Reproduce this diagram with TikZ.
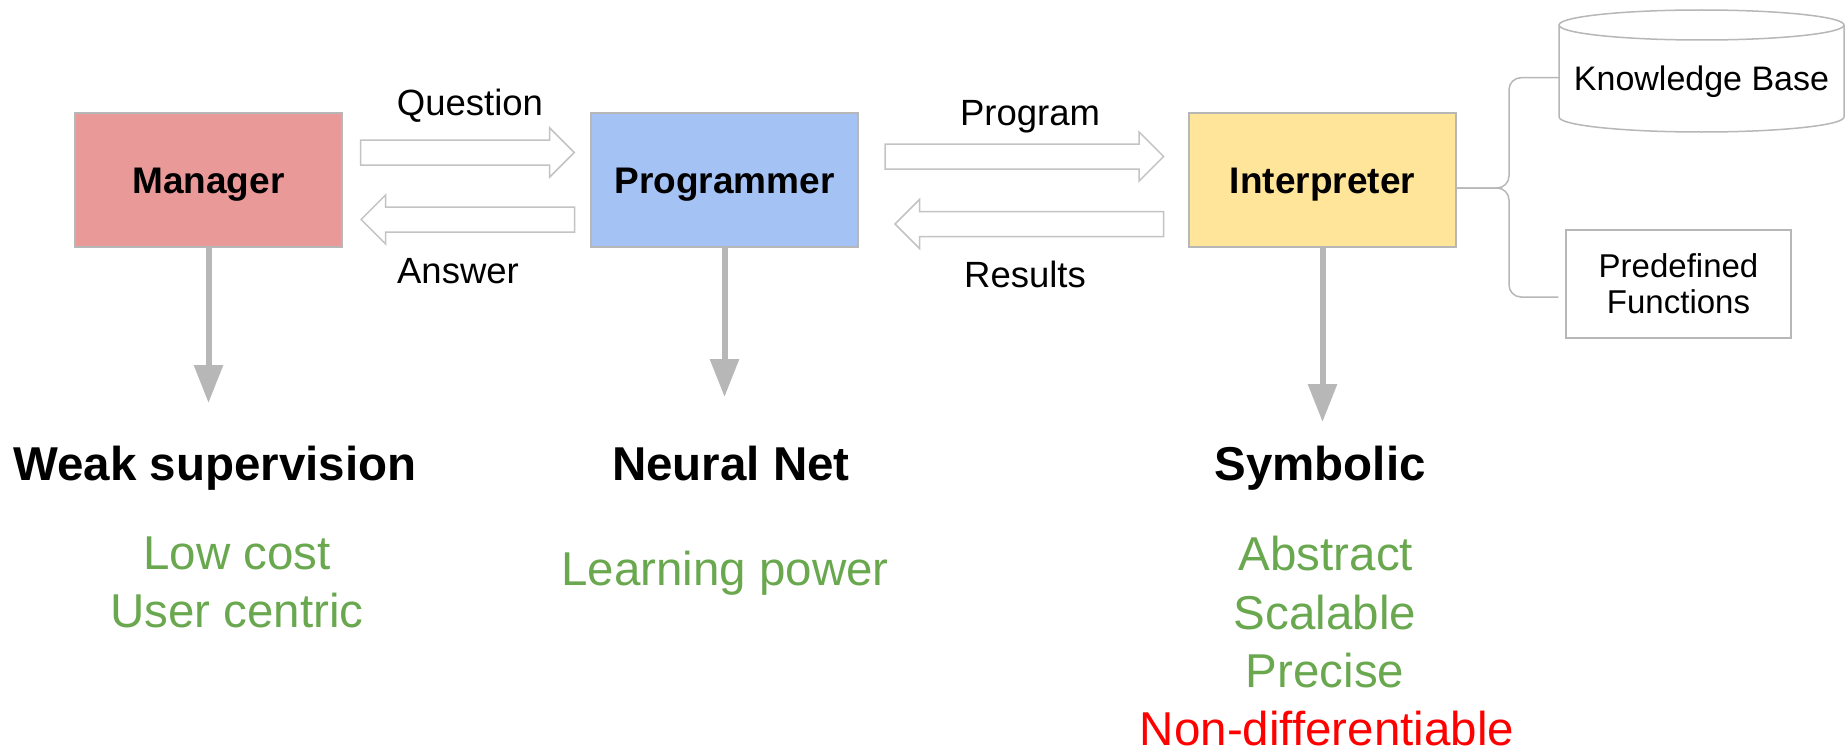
\documentclass[tikz,border=0pt]{standalone}
\usepackage{fontspec}
\setmainfont{Liberation Sans}
\usetikzlibrary{arrows.meta,calc,shapes.arrows}

\definecolor{mgrpink}{HTML}{EA9999}
\definecolor{prgblue}{HTML}{A4C2F4}
\definecolor{intyellow}{HTML}{FFE599}
\definecolor{linegray}{HTML}{B7B7B7}
\definecolor{arrowgray}{HTML}{C3C3C3}
\definecolor{notegreen}{HTML}{6AA84F}

\begin{document}
\begin{tikzpicture}[x=1pt, y=-1pt,
    box/.style={draw=linegray, line width=2pt, minimum width=267pt, minimum height=134pt,
        inner sep=0pt, text height=26.5pt, text depth=0pt, font=\fontsize{37}{44}\selectfont\bfseries},
    harrow/.style={single arrow, draw=arrowgray, line width=1.5pt, fill=white,
        inner xsep=0pt, inner ysep=11.75pt, single arrow head extend=12pt},
    lbl/.style={font=\fontsize{36.5}{44}\selectfont, inner sep=0pt, anchor=base},
    downarr/.style={draw=linegray, line width=6pt, -{Triangle[length=38pt, width=28pt]}},
    head/.style={font=\fontsize{47.5}{57}\selectfont\bfseries, inner sep=0pt, anchor=base},
    note/.style={font=\fontsize{47.5}{57}\selectfont, text=notegreen, inner sep=0pt, anchor=base},
    thinline/.style={draw=linegray, line width=1.5pt},
    brace/.style={draw=linegray, line width=1.5pt, rounded corners=12pt}]
    \useasboundingbox (0,0) rectangle (1846,752);
    % Boxes
    \node[box, fill=mgrpink] (mgr) at (208.5,180) {Manager};
    \node[box, fill=prgblue] (prg) at (724.5,180) {Programmer};
    \node[box, fill=intyellow] (intp) at (1322.5,180) {Interpreter};
    % Hollow arrows between the boxes
    \node[harrow, minimum height=213.5pt] (qarrow) at ($(mgr.east)!.5!(prg.west)+(-5.3,-27.5)$) {};
    \node[harrow, minimum height=213.5pt, shape border rotate=180] (aarrow) at ($(mgr.east)!.5!(prg.west)+(7.6,39.5)$) {};
    \node[harrow, minimum height=278.5pt] (parrow) at ($(prg.east)!.5!(intp.west)+(-5.4,-23.5)$) {};
    \node[harrow, minimum height=268.5pt, shape border rotate=180] (rarrow) at ($(prg.east)!.5!(intp.west)+(12,44)$) {};
    \node[lbl] (qlabel) at (470,115) {Question};
    \node[lbl] (alabel) at (458,283) {Answer};
    \node[lbl] (plabel) at (1030,125) {Program};
    \node[lbl] (rlabel) at (1025,287) {Results};
    % Knowledge base cylinder
    \draw[thinline, fill=white] (1559,25) -- (1559,117) arc[start angle=180, end angle=0, x radius=142.5, y radius=15] -- (1844,25);
    \draw[thinline] (1701.5,25) ellipse[x radius=142.5, y radius=15];
    \node[font=\fontsize{34}{40}\selectfont, inner sep=0pt, anchor=base, text depth=0pt, minimum width=285pt] (kb) at (1701.5,90) {Knowledge Base};
    \node[thinline, minimum width=225pt, minimum height=108pt, align=center, font=\fontsize{33}{36}\selectfont] (pf) at (1678.5,284) {Predefined\\Functions};
    % Brace from the interpreter
    \coordinate (tip) at ([yshift=-8pt]intp.east);
    \coordinate (bend) at (1509,188);
    \coordinate (pfend) at ([shift={(-7pt,-13pt)}]pf.west);
    \draw[brace] (kb.west) -| (bend) -- (tip);
    \draw[brace] (pfend) -| (bend) -- (tip);
    % Downward arrows
    \coordinate (mgrtip) at ([yshift=-155pt]mgr.south);
    \coordinate (prgtip) at ([yshift=-149pt]prg.south);
    \coordinate (intptip) at ([yshift=-174pt]intp.south);
    \draw[downarr] (mgr.south) -- (mgrtip);
    \draw[downarr] (prg.south) -- (prgtip);
    \draw[downarr] (intp.south) -- (intptip);
    % Headings and notes
    \node[head] (weak) at (215,480) {Weak supervision};
    \node[head] (neural) at (731,480) {Neural Net};
    \node[head] (symb) at (1320,480) {Symbolic};
    \node[note] (lowcost) at (237,569) {Low cost};
    \node[note] (usercen) at (237,627) {User centric};
    \node[note] (learn) at (725,585) {Learning power};
    \node[note] (abstr) at (1326,570) {Abstract};
    \node[note] (scal) at (1325,629) {Scalable};
    \node[note] (prec) at (1325,687) {Precise};
    \node[note, text=red] (nondiff) at (1327,745) {Non-differentiable};
\end{tikzpicture}
\end{document}
